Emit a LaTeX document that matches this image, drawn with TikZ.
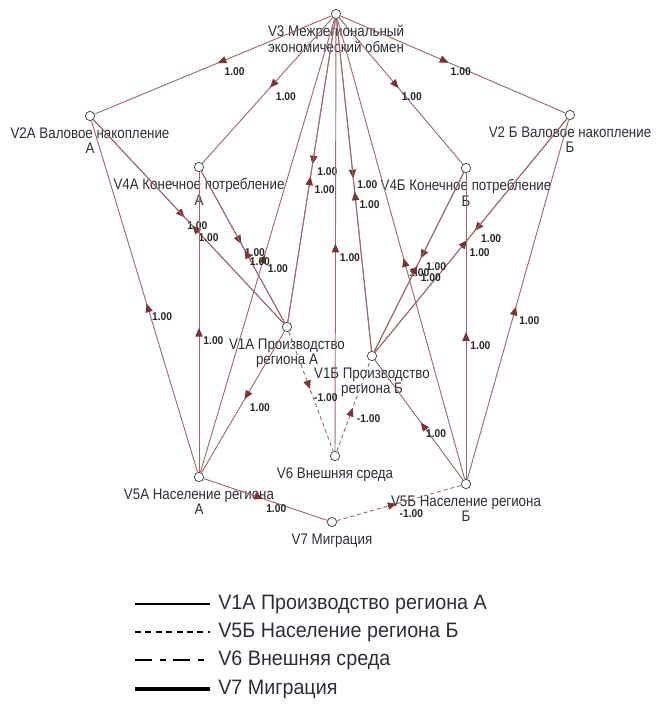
\documentclass[tikz,border=0pt]{standalone}
\usepackage{fontspec}
\setmainfont{Liberation Sans}
\usepackage{xcolor}
\definecolor{colLink}{RGB}{155,105,105}
\definecolor{colTip}{RGB}{122,52,52}
\definecolor{colText}{RGB}{45,45,58}
\usetikzlibrary{arrows.meta, decorations.markings}

\begin{document}
\begin{tikzpicture}[
		x=0.75pt, y=-0.75pt,
		vert/.style={circle, draw=black!70, fill=white, line width=0.6pt, minimum size=7pt, inner sep=0pt},
		lbl/.style={font=\fontsize{10}{10}\selectfont, text=colText, align=center, inner sep=0.5pt, yscale=1.15},
		link/.style={draw=colLink, line width=0.7pt, postaction={decorate},
			decoration={markings, mark=at position 0.48 with {\arrow{Triangle[length=6.5pt, width=5.5pt, color=colTip]}}}},
		dlink/.style={link, dash pattern=on 3pt off 2.2pt},
		wt/.style={font=\bfseries\fontsize{7.7}{8}\selectfont, text=black!85, anchor=north west, inner sep=1pt, xshift=2pt, yshift=-3pt, yscale=1.1},
		leg/.style={font=\fontsize{14.8}{16}\selectfont, text=colText, anchor=west, inner sep=0pt, yscale=1.06}
	]
		\useasboundingbox (0,0) rectangle (657,706);

		% ===== VERTICES =====
		\tikzset{every label/.style={label distance=3.5pt}}
		\node[vert, label={[lbl]below:{V3 Межрегиональный\\экономический обмен}}] (v3) at (336,14) {};
		\node[vert, label={[lbl]below:{V2A Валовое накопление\\А}}] (v2a) at (90,116) {};
		\node[vert, label={[lbl]below:{V2 Б Валовое накопление\\Б}}] (v2b) at (570,115) {};
		\node[vert, label={[lbl]below:{V4A Конечное потребление\\А}}] (v4a) at (199,167) {};
		\node[vert, label={[lbl]below:{V4Б Конечное потребление\\Б}}] (v4b) at (466,168) {};
		\node[vert, label={[lbl]below:{V1A Производство\\региона А}}] (v1a) at (287,327) {};
		\node[vert, label={[lbl]below:{V1Б Производство\\региона Б}}] (v1b) at (372,356) {};
		\node[vert, label={[lbl]below:{V6 Внешняя среда}}] (v6) at (335,456) {};
		\node[vert, label={[lbl]below:{V5A Население региона\\А}}] (v5a) at (199,477) {};
		\node[vert, label={[lbl]below:{V5Б Население региона\\Б}}] (v5b) at (466,484) {};
		\node[vert, label={[lbl]below:{V7 Миграция}}] (v7) at (332,522) {};

		% ===== ARCS FROM V3 =====
		\draw[link] (v3) -- (v2a) node[wt, pos=0.47] {1.00};
		\draw[link] (v3) -- (v2b) node[wt, pos=0.47] {1.00};
		\draw[link] (v3) -- (v4a) node[wt, pos=0.47] {1.00};
		\draw[link] (v3) -- (v4b) node[wt, pos=0.47] {1.00};
		\draw[link] (v3) -- (v1a) node[wt, pos=0.47] {1.00};
		\draw[link] (v3) -- (v1b) node[wt, pos=0.47] {1.00};

		% ===== ARCS INTO V3 =====
		\draw[link] (v1a) -- (v3) node[wt, pos=0.47] {1.00};
		\draw[link] (v1b) -- (v3) node[wt, pos=0.47] {1.00};
		\draw[link] (v5a) -- (v3) node[wt, pos=0.47] {1.00};
		\draw[link] (v5b) -- (v3) node[wt, pos=0.47] {1.00};
		\draw[link] (v6) -- (v3) node[wt, pos=0.47] {1.00};

		% ===== REGION A =====
		\draw[link] (v2a) -- (v1a) node[wt, pos=0.47] {1.00};
		\draw[link] (v1a) -- (v2a) node[wt, pos=0.47] {1.00};
		\draw[link] (v4a) -- (v1a) node[wt, pos=0.47] {1.00};
		\draw[link] (v1a) -- (v4a) node[wt, pos=0.47] {1.00};
		\draw[link] (v5a) -- (v4a) node[wt, pos=0.47] {1.00};
		\draw[link] (v5a) -- (v2a) node[wt, pos=0.47] {1.00};
		\draw[link] (v1a) -- (v5a) node[wt, pos=0.47] {1.00};

		% ===== REGION B =====
		\draw[link] (v2b) -- (v1b) node[wt, pos=0.47] {1.00};
		\draw[link] (v1b) -- (v2b) node[wt, pos=0.47] {1.00};
		\draw[link] (v4b) -- (v1b) node[wt, pos=0.47] {1.00};
		\draw[link] (v1b) -- (v4b) node[wt, pos=0.47] {1.00};
		\draw[link] (v5b) -- (v4b) node[wt, pos=0.47] {1.00};
		\draw[link] (v5b) -- (v2b) node[wt, pos=0.47] {1.00};
		\draw[link] (v5b) -- (v1b) node[wt, pos=0.47] {1.00};

		% ===== MIGRATION AND ENVIRONMENT =====
		\draw[link] (v5a) -- (v7) node[wt, pos=0.47] {1.00};
		\draw[dlink] (v7) -- (v5b) node[wt, pos=0.47] {-1.00};
		\draw[dlink] (v1a) -- (v6) node[wt, pos=0.47] {-1.00};
		\draw[dlink] (v6) -- (v1b) node[wt, pos=0.47] {-1.00};

		% ===== LEGEND =====
		\node[leg] (lg1) at (218,604) {V1A Производство региона А};
		\node[leg] (lg2) at (218,632) {V5Б Население региона Б};
		\node[leg] (lg3) at (218,660) {V6 Внешняя среда};
		\node[leg] (lg4) at (218,689) {V7 Миграция};
		\coordinate (s1) at (135,604);
		\coordinate (s2) at (135,632);
		\coordinate (s3) at (135,660);
		\coordinate (s4) at (135,689);
		\draw[black, line width=0.8pt] (s1) -- ([xshift=-6pt]lg1.west);
		\draw[black, line width=0.8pt, dash pattern=on 4.5pt off 3.3pt] (s2) -- ([xshift=-6pt]lg2.west);
		\draw[black, line width=0.8pt, dash pattern=on 13pt off 6pt on 4pt off 5.5pt] (s3) -- ([xshift=-6pt]lg3.west);
		\draw[black, line width=2.6pt] (s4) -- ([xshift=-6pt]lg4.west);
	\end{tikzpicture}
\end{document}
